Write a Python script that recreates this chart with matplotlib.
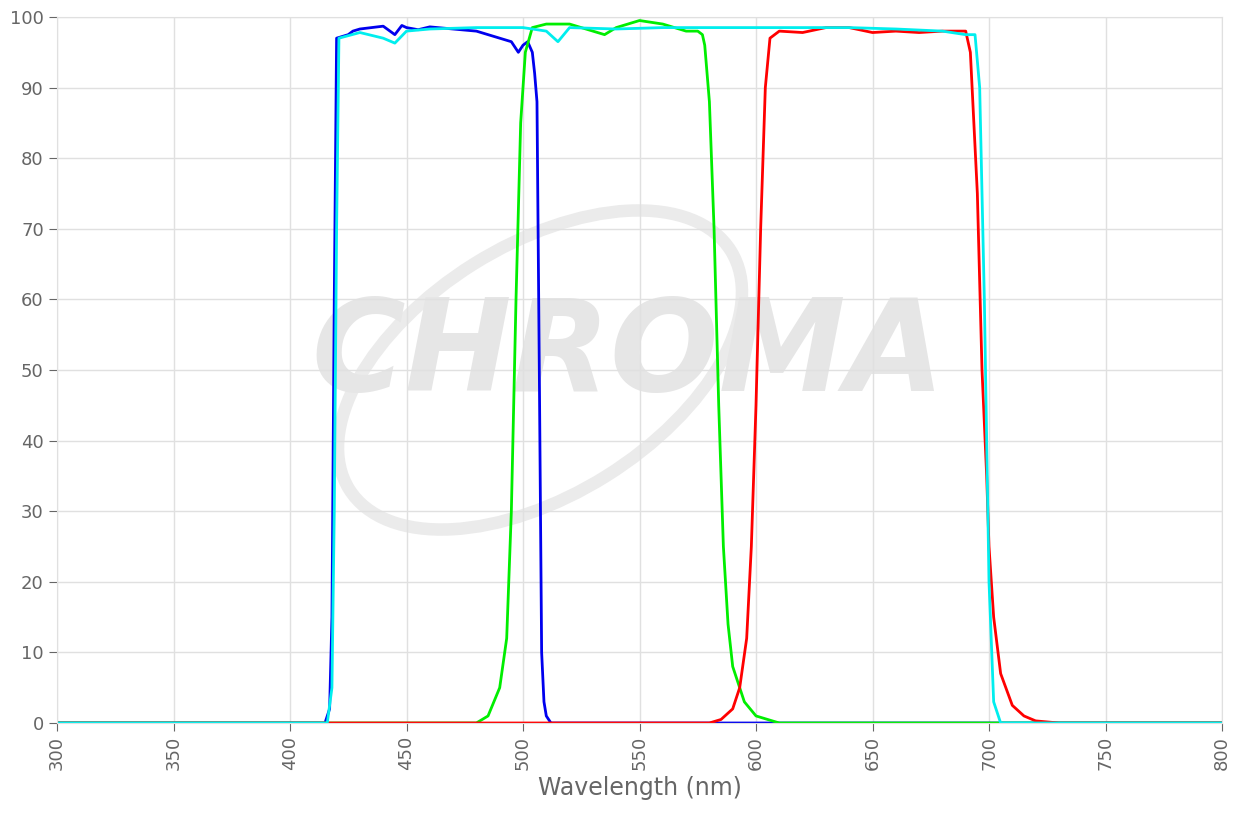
import matplotlib
matplotlib.use("Agg")
import matplotlib.pyplot as plt
from matplotlib.patches import Ellipse

blue_x = [300,415,417,418,419,420,425,427,430,435,440,445,448,450,455,460,470,480,490,495,498,500,502,504,505,506,507,508,509,510,512,800]
blue_y = [0,0,2,15,60,97,97.5,98,98.3,98.5,98.7,97.5,98.8,98.5,98.2,98.6,98.3,98,97,96.5,95,96,96.5,95,92,88,50,10,3,1,0,0]
cyan_x = [300,416,418,419,420,421,430,440,445,450,460,480,500,510,515,520,540,560,580,600,620,640,660,680,690,694,696,698,700,702,705,800]
cyan_y = [0,0,5,30,70,97,97.8,97,96.3,98,98.3,98.5,98.5,98,96.5,98.5,98.3,98.5,98.5,98.5,98.5,98.5,98.3,98,97.5,97.5,90,60,20,3,0,0]
green_x = [300,480,485,490,493,495,497,499,501,504,510,520,530,535,540,550,560,570,575,577,578,580,582,584,586,588,590,595,600,610,800]
green_y = [0,0,1,5,12,30,60,85,95,98.5,99,99,98,97.5,98.5,99.5,99,98,98,97.5,96,88,70,45,25,14,8,3,1,0,0]
red_x = [300,580,585,590,593,596,598,600,602,604,606,610,620,630,640,650,660,670,680,690,692,695,697,699,700,702,705,710,715,720,730,800]
red_y = [0,0,0.5,2,5,12,25,45,70,90,97,98,97.8,98.5,98.5,97.8,98,97.8,98,98,95,75,50,35,25,15,7,2.5,1,0.3,0,0]

xticks = list(range(300, 801, 50))
yticks = list(range(0, 101, 10))

fig = plt.figure(figsize=(12.52, 8.25), dpi=100)
ax = fig.add_axes([57/1252, 102/825, (1222-57)/1252, (723-17)/825])

# watermark (display pixel coordinates)
ax.add_artist(Ellipse((540, 455), 450, 250, angle=32, fill=False, ec='#ebebeb', lw=9,
                      transform=None, zorder=0))
ax.text(545, 52, 'CHROMA', fontsize=92, fontstyle='italic', fontweight='bold',
        color='#e6e6e6', ha='center', va='center', zorder=0, family='DejaVu Sans')

ax.plot(blue_x, blue_y, color='#0000ee', lw=2)
ax.plot(green_x, green_y, color='#00ee00', lw=2)
ax.plot(red_x, red_y, color='#ff0000', lw=2)
ax.plot(cyan_x, cyan_y, color='#00eeee', lw=2)

ax.set_xlim(300, 800)
ax.set_ylim(0, 100)
ax.set_xticks(xticks)
ax.set_yticks(yticks)
ax.set_xticklabels([str(t) for t in xticks], rotation=90)
ax.grid(True, color='#e0e0e0', lw=1)
ax.set_axisbelow(True)
for s in ax.spines.values():
    s.set_color('#e0e0e0')
ax.tick_params(colors='#666666', labelsize=13, length=6)
ax.set_xlabel('Wavelength (nm)', fontsize=17, color='#666666')
fig.savefig('out.png', dpi=100)
